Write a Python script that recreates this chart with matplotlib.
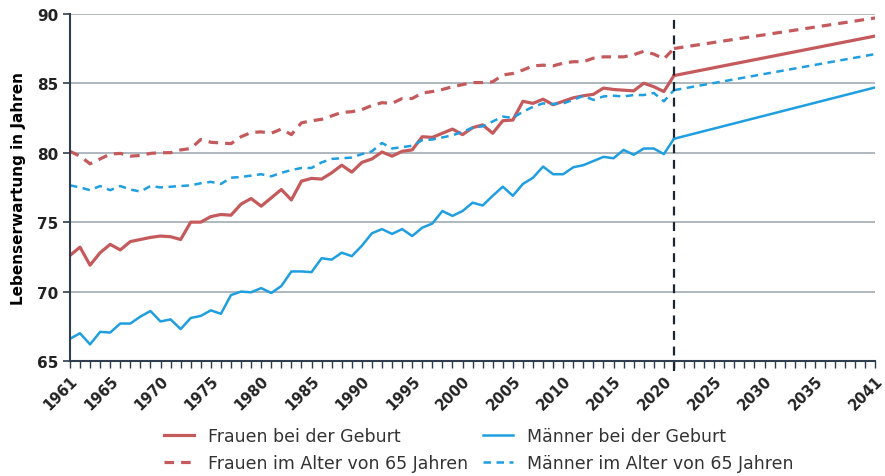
import matplotlib
matplotlib.use("Agg")
import matplotlib.pyplot as plt
from matplotlib.ticker import MultipleLocator

# Jahre der Beobachtung (1961-2021)
jahre = list(range(1961, 2022))

frauen_geburt = [72.6, 73.2, 71.9, 72.8, 73.4, 73.0, 73.6, 73.75, 73.9, 74.0,
                 73.95, 73.75, 75.0, 75.0, 75.4, 75.55, 75.5, 76.3, 76.7, 76.15,
                 76.75, 77.35, 76.6, 77.95, 78.15, 78.1, 78.55, 79.1, 78.6, 79.3,
                 79.55, 80.05, 79.75, 80.1, 80.2, 81.15, 81.1, 81.4, 81.7, 81.3,
                 81.8, 82.0, 81.4, 82.3, 82.35, 83.7, 83.55, 83.85, 83.45, 83.7,
                 83.95, 84.1, 84.2, 84.65, 84.55, 84.5, 84.45, 85.0, 84.75, 84.4,
                 85.55]

maenner_geburt = [66.6, 67.0, 66.2, 67.1, 67.05, 67.7, 67.7, 68.2, 68.6, 67.85,
                  68.0, 67.3, 68.1, 68.25, 68.65, 68.4, 69.75, 70.0, 69.95, 70.25,
                  69.9, 70.4, 71.45, 71.45, 71.4, 72.4, 72.3, 72.8, 72.55, 73.3,
                  74.2, 74.5, 74.15, 74.5, 74.0, 74.6, 74.9, 75.8, 75.45, 75.8,
                  76.4, 76.2, 76.9, 77.55, 76.9, 77.75, 78.2, 79.0, 78.45, 78.45,
                  78.95, 79.1, 79.4, 79.7, 79.6, 80.2, 79.85, 80.3, 80.3, 79.9,
                  81.0]

frauen_65 = [80.1, 79.75, 79.2, 79.55, 79.9, 79.95, 79.75, 79.8, 79.95, 80.0,
             80.0, 80.2, 80.3, 80.95, 80.75, 80.7, 80.65, 81.15, 81.45, 81.5,
             81.4, 81.7, 81.3, 82.15, 82.3, 82.4, 82.65, 82.9, 82.95, 83.1,
             83.4, 83.6, 83.55, 83.9, 83.9, 84.3, 84.4, 84.55, 84.75, 84.9,
             85.05, 85.05, 85.1, 85.6, 85.7, 85.95, 86.25, 86.3, 86.25, 86.45,
             86.55, 86.55, 86.8, 86.9, 86.9, 86.9, 87.05, 87.3, 87.1, 86.75,
             87.5]

maenner_65 = [77.65, 77.5, 77.3, 77.6, 77.3, 77.6, 77.35, 77.2, 77.6, 77.5,
              77.55, 77.6, 77.65, 77.8, 77.9, 77.75, 78.2, 78.25, 78.35, 78.45,
              78.3, 78.55, 78.75, 78.9, 78.9, 79.3, 79.55, 79.6, 79.65, 79.9,
              80.1, 80.7, 80.3, 80.4, 80.5, 80.9, 80.95, 81.1, 81.25, 81.5,
              81.8, 81.9, 82.25, 82.6, 82.5, 82.95, 83.3, 83.55, 83.5, 83.55,
              83.8, 84.1, 83.8, 84.05, 84.1, 84.05, 84.15, 84.15, 84.3, 83.7,
              84.5]

# Vorausberechnung 2021-2041 (Start- und Endwert)
jahre_prognose = [2021, 2041]
frauen_geburt_prognose = [85.55, 88.4]
maenner_geburt_prognose = [81.0, 84.7]
frauen_65_prognose = [87.5, 89.7]
maenner_65_prognose = [84.5, 87.1]

x_labels = [1961] + list(range(1965, 2045, 5))
x_labels[-1] = 2041

rot = "#c55a5d"
blau = "#1f9ee0"
achse = "#2f3d4c"
gestrichelt = (0, (3, 2.2))

fig = plt.figure(figsize=(8.85, 4.77), dpi=100)
ax = fig.add_axes([0.079, 0.241, 0.91, 0.728])

# Gitterlinien
for y in [70, 75, 80, 85, 90]:
    ax.axhline(y, color="#a9b2ba", lw=1.3, zorder=0)

l1, = ax.plot(jahre, frauen_geburt, color=rot, lw=2.3)
l2, = ax.plot(jahre, maenner_geburt, color=blau, lw=1.8)
l3, = ax.plot(jahre, frauen_65, color=rot, lw=2.3, ls=gestrichelt)
l4, = ax.plot(jahre, maenner_65, color=blau, lw=1.8, ls=gestrichelt)

ax.plot(jahre_prognose, frauen_geburt_prognose, color=rot, lw=2.3)
ax.plot(jahre_prognose, maenner_geburt_prognose, color=blau, lw=1.8)
ax.plot(jahre_prognose, frauen_65_prognose, color=rot, lw=2.3, ls=gestrichelt)
ax.plot(jahre_prognose, maenner_65_prognose, color=blau, lw=1.8, ls=gestrichelt)

# Trennlinie Beobachtung / Prognose
ax.axvline(2021, color="#1c2530", lw=1.6, ls=(0, (4, 3)), ymin=-0.03, clip_on=False)

ax.set_xlim(1961, 2041)
ax.set_ylim(65, 90)
ax.set_yticks([65, 70, 75, 80, 85, 90])
ax.set_xticks(x_labels)
ax.xaxis.set_minor_locator(MultipleLocator(1))
ax.set_xticklabels([str(j) for j in x_labels], rotation=45, ha="right",
                   rotation_mode="anchor", fontsize=10.5, fontweight="bold", color="#222222")
for t in ax.get_yticklabels():
    t.set_fontsize(11)
    t.set_fontweight("bold")
    t.set_color("#222222")
ax.tick_params(axis="x", which="both", direction="out", length=5, width=1, color=achse)
ax.tick_params(axis="y", direction="out", length=5, width=1.2, color=achse)

for s in ["top", "right"]:
    ax.spines[s].set_visible(False)
for s in ["left", "bottom"]:
    ax.spines[s].set_color(achse)
    ax.spines[s].set_linewidth(1.5)

ax.set_ylabel("Lebenserwartung in Jahren", fontsize=11, fontweight="bold", labelpad=8)

# Legende: Zeile 1 = bei der Geburt, Zeile 2 = im Alter von 65
leg = fig.legend([l1, l3, l2, l4],
                 ["Frauen bei der Geburt", "Frauen im Alter von 65 Jahren",
                  "Männer bei der Geburt", "Männer im Alter von 65 Jahren"],
                 loc="center", bbox_to_anchor=(0.541, 0.0556), ncol=2, frameon=False,
                 fontsize=12.5, handlelength=1.7, handletextpad=0.8,
                 columnspacing=0.9, labelspacing=0.5)
for t in leg.get_texts():
    t.set_color("#333333")

fig.savefig("out.png", dpi=100)
